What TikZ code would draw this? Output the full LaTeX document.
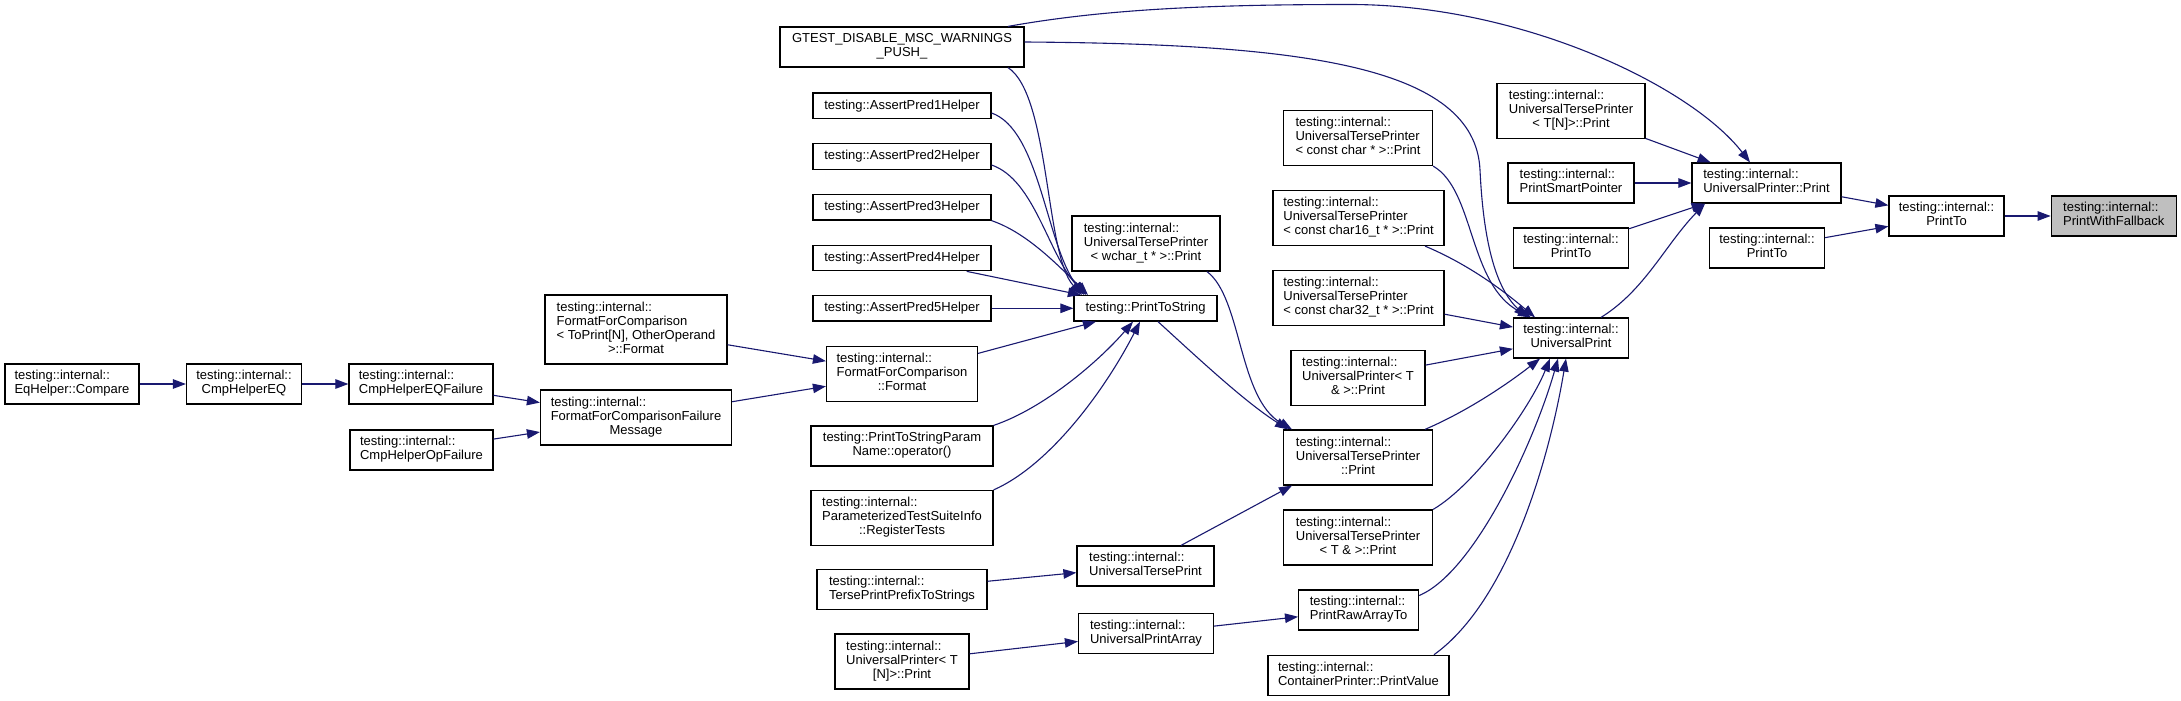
\documentclass[tikz,border=0pt]{standalone}
\usepackage{fontspec}
\setmainfont{Liberation Sans}
\usetikzlibrary{arrows.meta}
\definecolor{edgec}{HTML}{191970}
\definecolor{hilite}{HTML}{BFBFBF}
\newcommand\nlbl[2]{\begin{tabular}{@{}l@{}}#1\\\multicolumn{1}{@{}c@{}}{#2}\end{tabular}}
\newcommand\nd[6]{\node[nbox,minimum width=#4pt,minimum height=#5pt] (#1) at (#2,#3) {#6};}
\begin{document}
\begin{tikzpicture}[x=1pt,y=-1pt,
  nbox/.style={draw=black,line width=1.2pt,fill=white,inner sep=0pt,font=\fontsize{13}{14}\selectfont,align=center},
  conn/.style={draw=edgec,line width=1.1pt,-{Triangle[length=13pt,width=9.5pt]}}]
\path[fill=white] (0,0) rectangle (2181,701);
\useasboundingbox (0,0) rectangle (2181,701);
% nodes
\nd{eq}{72}{384}{134}{40}{\nlbl{testing::internal::}{EqHelper::Compare}}
\nd{cmpeq}{244}{384}{115}{40}{\nlbl{testing::internal::}{CmpHelperEQ}}
\nd{cmpeqf}{421}{384}{144}{40}{\nlbl{testing::internal::}{CmpHelperEQFailure}}
\nd{cmpopf}{421.5}{450}{143}{40}{\nlbl{testing::internal::}{CmpHelperOpFailure}}
\nd{ffcN}{636}{329.5}{182}{69}{\nlbl{testing::internal::\\FormatForComparison\\< ToPrint[N], OtherOperand}{>::Format}}
\nd{ffcfm}{636}{417.5}{191}{55}{\nlbl{testing::internal::\\FormatForComparisonFailure}{Message}}
\nd{gtest}{902}{47}{244}{40}{\nlbl{GTEST\_DISABLE\_MSC\_WARNINGS}{\_PUSH\_}}
\nd{ap1}{902}{105.8}{178}{25.5}{testing::AssertPred1Helper}
\nd{ap2}{902}{156.5}{178}{25.5}{testing::AssertPred2Helper}
\nd{ap3}{902}{207.3}{178}{25.5}{testing::AssertPred3Helper}
\nd{ap4}{902}{258}{178}{25.5}{testing::AssertPred4Helper}
\nd{ap5}{902}{308.3}{178}{25.5}{testing::AssertPred5Helper}
\nd{ffc}{902}{373.8}{151}{55}{\nlbl{testing::internal::\\FormatForComparison}{::Format}}
\nd{ptspn}{902}{446}{182}{40}{\nlbl{testing::PrintToStringParam}{Name::operator()}}
\nd{regt}{902}{518}{182}{55}{\nlbl{testing::internal::\\ParameterizedTestSuiteInfo}{::RegisterTests}}
\nd{tpp}{902}{589.5}{170}{40}{\nlbl{testing::internal::}{TersePrintPrefixToStrings}}
\nd{upTN}{902}{661.5}{134}{55}{\nlbl{testing::internal::\\UniversalPrinter< T}{[N]>::Print}}
\nd{pts}{1145.5}{308.3}{143}{25.5}{testing::PrintToString}
\nd{utpw}{1146}{243.5}{148}{55}{\nlbl{testing::internal::\\UniversalTersePrinter}{< wchar\_t * >::Print}}
\nd{utprint}{1145.5}{566}{137}{40}{\nlbl{testing::internal::}{UniversalTersePrint}}
\nd{upa}{1146}{633.7}{135}{40}{\nlbl{testing::internal::}{UniversalPrintArray}}
\nd{utpc}{1358}{138}{149}{55}{\nlbl{testing::internal::\\UniversalTersePrinter}{< const char * >::Print}}
\nd{utp16}{1358.5}{218}{171}{55}{\nlbl{testing::internal::\\UniversalTersePrinter}{< const char16\_t * >::Print}}
\nd{utp32}{1358.5}{298}{171}{55}{\nlbl{testing::internal::\\UniversalTersePrinter}{< const char32\_t * >::Print}}
\nd{upTref}{1358}{377.7}{134}{55}{\nlbl{testing::internal::\\UniversalPrinter< T}{\& >::Print}}
\nd{utp}{1358}{457.5}{149}{55}{\nlbl{testing::internal::\\UniversalTersePrinter}{::Print}}
\nd{utpTref}{1358}{537.5}{149}{55}{\nlbl{testing::internal::\\UniversalTersePrinter}{< T \& >::Print}}
\nd{prat}{1358.6}{610}{120}{40}{\nlbl{testing::internal::}{PrintRawArrayTo}}
\nd{cpv}{1358.5}{675.3}{181}{40}{\nlbl{testing::internal::}{ContainerPrinter::PrintValue}}
\nd{utpTN}{1571}{111}{148}{55}{\nlbl{testing::internal::\\UniversalTersePrinter}{< T[N]>::Print}}
\nd{psp}{1571}{183}{126}{40}{\nlbl{testing::internal::}{PrintSmartPointer}}
\nd{ptoA}{1571}{248}{115}{40}{\nlbl{testing::internal::}{PrintTo}}
\nd{uprint}{1571}{338}{115}{40}{\nlbl{testing::internal::}{UniversalPrint}}
\nd{upp}{1766.5}{183}{149}{40}{\nlbl{testing::internal::}{UniversalPrinter::Print}}
\nd{ptoB}{1767}{248}{115}{40}{\nlbl{testing::internal::}{PrintTo}}
\nd{ptoC}{1946.5}{216}{115}{40}{\nlbl{testing::internal::}{PrintTo}}
\node[nbox,fill=hilite,minimum width=125pt,minimum height=40pt] (pwf) at (2113.7,216) {\nlbl{testing::internal::}{PrintWithFallback}};
% edges
\draw[conn] (eq) -- (cmpeq);
\draw[conn] (cmpeq) -- (cmpeqf);
\draw[conn] (cmpeqf) -- (ffcfm);
\draw[conn] (cmpopf) -- (ffcfm);
\draw[conn] (ffcN) -- (ffc);
\draw[conn] (ffcfm) -- (ffc);
\draw[conn] (ffc) -- (pts);
\draw[conn] (ap5) -- (pts);
\draw[conn] (ap4) -- (pts);
\draw[conn] (ap3.south east) .. controls (1025,232) and (1055,262) .. (pts.north -| 1088,0);
\draw[conn] (ap2.east |- 0,165) .. controls (1035,180) and (1048,255) .. (pts.north -| 1086,0);
\draw[conn] (ap1.east |- 0,113) .. controls (1040,130) and (1046,245) .. (pts.north -| 1084,0);
\draw[conn] (gtest.south -| 1008,0) .. controls (1050,95) and (1045,255) .. (pts.north -| 1082,0);
\draw[conn] (ptspn.north east) .. controls (1045,408) and (1100,360) .. (pts.south -| 1133,0);
\draw[conn] (regt.north east) .. controls (1050,465) and (1105,390) .. (pts.south -| 1140,0);
\draw[conn] (pts.south -| 1158,0) .. controls (1200,360) and (1245,402) .. (utp.north -| 1288,0);
\draw[conn] (utpw.south -| 1207,0) .. controls (1242,298) and (1238,398) .. (utp.north -| 1292,0);
\draw[conn] (utprint.north -| 1181,0) -- (utp.south -| 1292,0);
\draw[conn] (tpp) -- (utprint);
\draw[conn] (upTN) -- (upa);
\draw[conn] (upa) -- (prat);
\draw[conn] (utp32) -- (uprint);
\draw[conn] (upTref) -- (uprint);
\draw[conn] (utp16.south -| 1425,0) .. controls (1470,265) and (1505,292) .. (uprint.north -| 1535,0);
\draw[conn] (utpc.south east) .. controls (1475,190) and (1468,285) .. (uprint.north -| 1531,0);
\draw[conn] (gtest.east |- 0,42) .. controls (1300,44) and (1475,65) .. (1480,170) .. controls (1484,255) and (1500,292) .. (uprint.north -| 1527,0);
\draw[conn] (utp.north -| 1425,0) .. controls (1470,410) and (1510,382) .. (uprint.south -| 1540,0);
\draw[conn] (utpTref.north east) .. controls (1475,485) and (1530,408) .. (uprint.south -| 1550,0);
\draw[conn] (prat.east |- 0,595.5) .. controls (1475,572) and (1535,440) .. (uprint.south -| 1558,0);
\draw[conn] (cpv.north -| 1434,0) .. controls (1510,600) and (1550,455) .. (uprint.south -| 1566,0);
\draw[conn] (utpTN) -- (upp);
\draw[conn] (psp) -- (upp);
\draw[conn] (ptoA) -- (upp);
\draw[conn] (uprint.north -| 1601,0) .. controls (1645,290) and (1665,245) .. (upp.south -| 1705,0);
\draw[conn] (gtest.north -| 1008,0) .. controls (1100,10) and (1200,4.5) .. (1350,4.5) .. controls (1520,4.5) and (1690,85) .. (upp.north -| 1750,0);
\draw[conn] (upp) -- (ptoC);
\draw[conn] (ptoB) -- (ptoC);
\draw[conn] (ptoC) -- (pwf);
\end{tikzpicture}
\end{document}
